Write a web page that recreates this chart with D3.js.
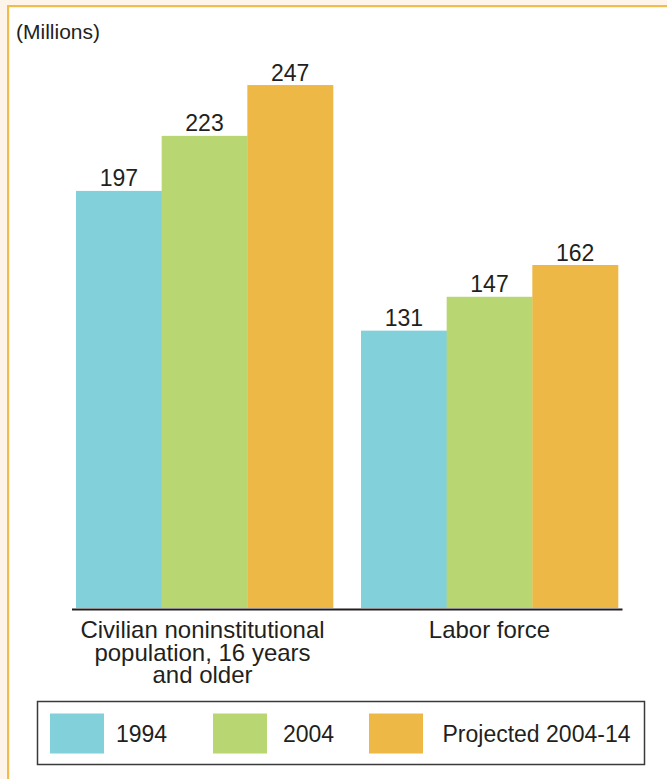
<!DOCTYPE html>
<html>
<head>
<meta charset="utf-8">
<script src="https://cdn.jsdelivr.net/npm/d3@7"></script>
<style>
  html, body { margin: 0; padding: 0; background: #fdf5ea; }
  svg { display: block; }
  text { font-family: "Liberation Sans", Arial, sans-serif; fill: #231f20; }
</style>
</head>
<body>
<svg id="chart" width="667" height="779"></svg>
<script>
// ---- data ----
const categories = [
  ["Civilian noninstitutional", "population, 16 years", "and older"],
  ["Labor force"]
];
const seriesNames = ["1994", "2004", "Projected 2004-14"];
const values1994 = [197, 131];
const values2004 = [223, 147];
const valuesProjected = [247, 162];
const unitLabel = "(Millions)";

const colors = ["#82d0da", "#b8d672", "#edb846"];

const series = [values1994, values2004, valuesProjected];
const W = 667, H = 779;
const svg = d3.select("#chart");

// frame
svg.append("rect").attr("x", 0).attr("y", 0).attr("width", W).attr("height", H).attr("fill", "#fdf5ea");
svg.append("rect").attr("x", 9).attr("y", 7).attr("width", W - 9).attr("height", H - 7).attr("fill", "#ffffff");
svg.append("rect").attr("x", 7).attr("y", 5).attr("width", W - 7).attr("height", 2.2).attr("fill", "#f0bd4d");
svg.append("rect").attr("x", 7).attr("y", 5).attr("width", 2.2).attr("height", H - 5).attr("fill", "#f0bd4d");

// scales
const baseY = 608;
const y = d3.scaleLinear().domain([0, 250]).range([baseY, baseY - 529.3]);
const catIdx = categories.map((d, i) => i);
const x0 = d3.scaleBand().domain(catIdx).range([76, 618]).paddingInner(0.0982).paddingOuter(0);
const x1 = d3.scaleBand().domain(seriesNames).range([0, x0.bandwidth()]).padding(0);

// bars
const g = svg.append("g");
catIdx.forEach(ci => {
  const grp = g.append("g").attr("transform", `translate(${x0(ci)},0)`);
  seriesNames.forEach((s, si) => {
    const v = series[si][ci];
    grp.append("rect")
      .attr("x", x1(s))
      .attr("y", y(v))
      .attr("width", x1.bandwidth() + 0.3)
      .attr("height", baseY - y(v))
      .attr("fill", colors[si]);
    grp.append("text")
      .attr("x", x1(s) + x1.bandwidth() / 2)
      .attr("y", y(v) - 4.5)
      .attr("text-anchor", "middle")
      .attr("font-size", 23)
      .text(v);
  });
});

// axis line
svg.append("line")
  .attr("x1", 72).attr("x2", 622.5)
  .attr("y1", 609.5).attr("y2", 609.5)
  .attr("stroke", "#231f20").attr("stroke-width", 2);

// category labels
catIdx.forEach(ci => {
  const t = svg.append("text")
    .attr("x", x0(ci) + x0.bandwidth() / 2 - (ci === 0 ? 2 : 0))
    .attr("y", 638)
    .attr("text-anchor", "middle")
    .attr("font-size", 24);
  categories[ci].forEach((line, li) => {
    t.append("tspan")
      .attr("x", x0(ci) + x0.bandwidth() / 2 - (ci === 0 ? 2 : 0))
      .attr("dy", li === 0 ? 0 : 22.5)
      .text(line);
  });
});

// unit label
svg.append("text").attr("x", 16).attr("y", 39).attr("font-size", 21).text(unitLabel);

// legend
svg.append("rect")
  .attr("x", 37.5).attr("y", 701.5).attr("width", 607).attr("height", 63)
  .attr("fill", "#ffffff").attr("stroke", "#3a3a3a").attr("stroke-width", 1.5);
const legendSwatchX = [50, 213, 369];
const legendTextX = [116, 283, 442.5];
seriesNames.forEach((s, si) => {
  svg.append("rect")
    .attr("x", legendSwatchX[si]).attr("y", 713.5)
    .attr("width", 54).attr("height", 40)
    .attr("fill", colors[si]);
  svg.append("text")
    .attr("x", legendTextX[si]).attr("y", 742)
    .attr("font-size", 23)
    .text(s);
});
</script>
</body>
</html>
